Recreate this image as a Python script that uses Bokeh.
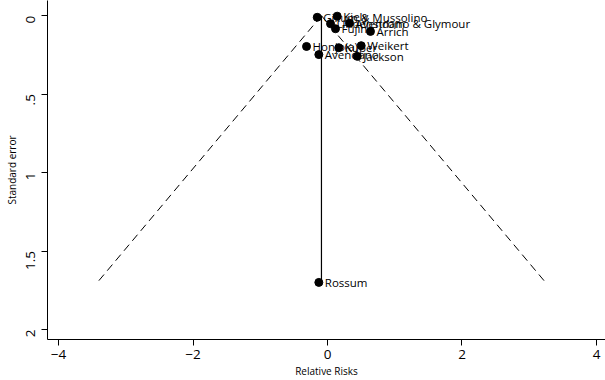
from bokeh.plotting import figure
from bokeh.models import Range1d, FixedTicker, ColumnDataSource
from bokeh.core.properties import value
from bokeh.embed import file_html
from bokeh.resources import INLINE
import math

# ---- data ----
study = ["Gillum & Mussolino", "Kiely", "Lindenstrom", "Avendano & Glymour",
         "Fujino", "Arrich", "Honjo(a)", "Kuper", "Weikert", "Avendano",
         "Jackson", "Rossum"]
rr = [-0.153, 0.144, 0.045, 0.327, 0.119, 0.639, -0.312, 0.168, 0.501,
      -0.129, 0.442, -0.129]
se = [0.010, 0.003, 0.051, 0.048, 0.083, 0.100, 0.196, 0.204, 0.191,
      0.248, 0.259, 1.700]
pooled = -0.09
x_ticks = [-4, -2, 0, 2, 4]
x_tick_labels = ["\u22124", "\u22122", "0", "2", "4"]
y_ticks = [0, 0.5, 1, 1.5, 2]
y_tick_labels = ["0", ".5", "1", "1.5", "2"]

FONT = "Open Sans"

p = figure(width=605, height=380, output_backend="svg", toolbar_location=None,
           x_range=Range1d(-4.164, 4.134), y_range=Range1d(2.064, -0.097),
           min_border_left=47, min_border_bottom=40, min_border_top=0,
           min_border_right=0)
p.outline_line_color = None
p.xgrid.visible = False
p.ygrid.visible = False
p.background_fill_color = "white"
p.border_fill_color = "white"

# pseudo confidence limits
max_se = max(se)
p.line([pooled, pooled - 1.96 * max_se], [0, max_se], line_color="black",
       line_dash="8 5", line_width=1)
p.line([pooled, pooled + 1.96 * max_se], [0, max_se], line_color="black",
       line_dash="8 5", line_width=1)
p.line([pooled, pooled], [0, max_se], line_color="black", line_width=1.2)

src = ColumnDataSource(dict(x=rr, y=se, name=study))
p.scatter("x", "y", source=src, size=8, color="black")
p.text("x", "y", text="name", source=src, x_offset=6, text_baseline="middle",
       text_align="left", text_font=value(FONT), text_font_size="11.5px",
       text_color="black")

# axes
xa = p.xaxis[0]
xa.ticker = FixedTicker(ticks=x_ticks)
xa.major_label_overrides = {t: l for t, l in zip(x_ticks, x_tick_labels)}
xa.axis_label = "Relative Risks"
xa.minor_tick_line_color = None
xa.major_tick_out = 6
xa.major_tick_in = 0
xa.major_label_standoff = 4
xa.axis_label_standoff = 2
xa.major_label_text_font = FONT
xa.major_label_text_font_size = "13.5px"
xa.major_label_text_color = "black"
xa.axis_label_text_font = FONT
xa.axis_label_text_font_size = "10px"
xa.axis_label_text_font_style = "normal"
xa.axis_label_text_color = "black"
xa.axis_line_color = "black"
xa.major_tick_line_color = "black"

ya = p.yaxis[0]
ya.ticker = FixedTicker(ticks=y_ticks)
ya.major_label_overrides = {t: l for t, l in zip(y_ticks, y_tick_labels)}
ya.axis_label = "Standard error"
ya.minor_tick_line_color = None
ya.major_tick_out = 6
ya.major_tick_in = 0
ya.major_label_orientation = math.pi / 2
ya.major_label_standoff = 11
ya.axis_label_standoff = 0
ya.major_label_text_font = FONT
ya.major_label_text_font_size = "13.5px"
ya.major_label_text_color = "black"
ya.axis_label_text_font = FONT
ya.axis_label_text_font_size = "10px"
ya.axis_label_text_font_style = "normal"
ya.axis_label_text_color = "black"
ya.axis_line_color = "black"
ya.major_tick_line_color = "black"

open("out.html", "w").write(file_html(p, INLINE))
